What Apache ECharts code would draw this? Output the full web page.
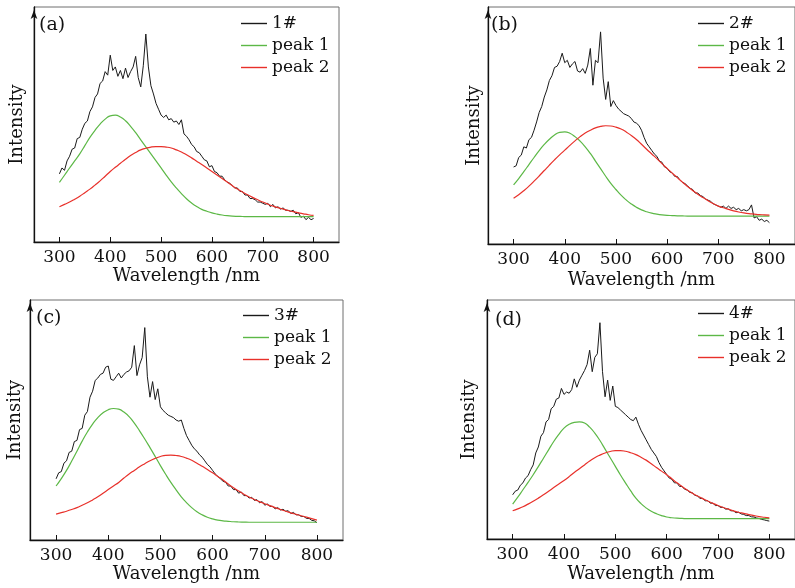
<!DOCTYPE html>
<html>
<head>
<meta charset="utf-8">
<script src="https://cdn.jsdelivr.net/npm/echarts@6/dist/echarts.min.js"></script>
<style>html,body{margin:0;padding:0;background:#fff}#c{width:795px;height:588px}</style>
</head>
<body>
<div id="c"></div>
<script>
// ---- data ----
const wavelengths5 = [300,305,310,315,320,325,330,335,340,345,350,355,360,365,370,375,380,385,390,395,
400,405,410,415,420,425,430,435,440,445,450,455,460,465,470,475,480,485,490,495,
500,505,510,515,520,525,530,535,540,545,550,555,560,565,570,575,580,585,590,595,
600,605,610,615,620,625,630,635,640,645,650,655,660,665,670,675,680,685,690,695,
700,705,710,715,720,725,730,735,740,745,750,755,760,765,770,775,780,785,790,795,800];
const wavelengths10 = [300,310,320,330,340,350,360,370,380,390,400,410,420,430,440,450,460,470,480,490,
500,510,520,530,540,550,560,570,580,590,600,610,620,630,640,650,660,670,680,690,
700,710,720,730,740,750,760,770,780,790,800];
const tickValues = [300,400,500,600,700,800];
const panelLabels = ['(a)','(b)','(c)','(d)'];
const sampleNames = ['1#','2#','3#','4#'];

const blackA = [29.0,31.5,30.5,34.5,36.5,39.5,40.0,44.0,44.5,48.0,
50.5,51.5,55.5,57.5,61.5,63.0,67.5,68.5,72.5,71.0,
79.5,73.0,74.5,70.5,73.0,69.5,74.0,70.0,72.5,74.5,
79.0,70.0,66.0,75.0,88.5,74.5,66.5,63.0,59.0,56.5,
54.0,53.0,54.0,52.0,52.5,51.0,51.5,50.0,52.0,46.0,
45.0,43.5,41.5,40.5,38.5,38.0,36.5,35.0,34.5,32.0,
32.5,30.0,29.5,28.0,28.0,26.5,25.5,25.0,24.0,23.0,
23.0,21.5,21.5,20.0,20.0,18.5,18.5,18.0,17.0,17.0,
16.5,16.0,16.5,15.0,16.0,14.5,15.0,14.0,14.5,13.5,
13.5,13.0,13.5,12.0,12.5,10.5,11.0,9.5,10.5,9.5,10.0];
const blackB = [32.5,33.0,36.5,37.5,41.0,40.5,44.0,45.0,48.0,51.5,
55.5,58.0,62.0,65.0,69.0,71.0,74.5,75.0,77.0,80.5,
76.5,77.5,74.5,76.0,77.0,73.0,72.5,74.0,72.0,75.5,
82.5,67.0,77.5,76.5,89.5,70.0,61.0,68.5,58.0,60.5,
58.5,57.0,56.0,55.0,54.5,54.0,53.0,51.5,51.0,50.0,
48.0,45.0,42.5,41.0,39.5,38.0,37.0,35.0,34.5,32.5,
32.0,30.5,30.0,28.5,28.5,27.0,26.0,25.5,24.5,23.5,
23.0,21.5,21.5,20.5,20.0,19.0,18.5,18.0,17.0,16.5,
16.0,15.5,16.0,15.0,16.0,15.0,15.5,14.5,15.0,14.0,
14.5,14.0,14.5,16.5,11.0,11.5,10.0,10.5,9.5,10.0,9.0];
const blackC = [25.5,28.0,28.5,32.0,33.0,36.5,37.0,41.0,41.5,46.0,
46.5,52.0,53.5,59.5,62.0,66.5,67.5,69.0,69.5,72.0,
72.5,67.0,66.5,68.0,69.5,67.5,69.0,70.0,70.5,72.0,
81.0,68.5,73.0,76.0,88.5,68.0,59.5,66.0,58.5,63.0,
55.5,54.0,53.0,52.0,51.5,51.0,50.0,49.5,50.0,46.5,
43.5,41.5,39.5,38.0,37.0,35.5,34.5,33.0,31.5,30.5,
29.0,27.5,26.5,25.5,24.5,24.0,22.5,22.5,21.0,21.0,
19.5,20.0,18.5,18.5,17.5,17.8,16.5,16.8,15.5,16.0,
14.5,15.0,14.0,14.0,13.0,13.5,12.5,12.8,12.0,12.2,
11.0,11.5,10.5,10.5,9.8,9.8,9.0,9.0,8.2,8.0,7.2];
const blackD = [18.5,20.0,20.5,22.5,23.5,25.5,26.5,29.0,31.0,36.0,
38.5,43.0,44.5,49.0,50.0,54.5,55.5,58.5,59.0,63.0,
60.5,61.5,61.0,62.5,67.0,63.5,66.5,68.5,70.5,73.0,
79.0,70.0,76.0,77.5,90.5,70.0,59.5,66.5,58.0,64.0,
55.5,55.0,54.0,53.0,52.0,51.0,50.0,49.5,51.0,48.0,
45.5,43.5,41.5,39.5,37.5,36.0,34.5,32.0,30.0,28.5,
27.0,25.5,25.0,23.5,23.5,22.0,22.0,20.8,20.5,19.5,
19.3,18.3,18.0,17.0,17.0,16.0,16.0,15.0,15.0,14.0,
14.0,13.2,13.3,12.5,12.6,11.8,11.8,11.0,11.2,10.5,
10.3,9.8,9.8,9.3,9.2,8.8,8.6,8.2,8.0,7.7,7.5];

const peak1A = [25.4,28.4,31.5,34.5,37.5,41.0,44.5,47.5,50.2,52.3,53.7,54.0,53.2,51.6,49.2,46.5,43.5,40.5,37.5,34.5,
31.5,28.5,25.6,23.0,20.6,18.4,16.6,15.1,13.9,13.1,12.4,11.9,11.5,11.2,11.0,10.9,10.85,10.8,10.8,10.8,
10.8,10.8,10.8,10.8,10.8,10.8,10.8,10.8,10.8,10.8,10.8];
const peak2A = [15.0,16.0,17.0,18.2,19.5,21.0,22.5,24.2,26.0,28.0,30.0,31.8,33.5,35.2,36.8,38.1,39.2,39.9,40.4,40.6,
40.6,40.4,40.0,39.2,38.3,37.1,35.8,34.4,33.0,31.5,30.0,28.5,27.0,25.5,24.0,22.6,21.3,20.1,19.0,18.0,
17.0,16.1,15.3,14.6,14.0,13.4,12.9,12.4,12.0,11.6,11.3];
const peak1B = [24.9,27.6,30.5,33.5,36.5,39.4,42.0,44.2,46.0,47.1,47.3,46.7,45.3,43.4,41.0,38.2,35.0,31.8,28.6,25.6,
23.0,20.6,18.6,16.9,15.5,14.4,13.6,13.0,12.6,12.3,12.1,12.0,11.9,11.85,11.8,11.8,11.8,11.8,11.8,11.8,
11.8,11.8,11.8,11.8,11.8,11.8,11.8,11.8,11.8,11.8,11.8];
const peak2B = [19.3,20.8,22.5,24.4,26.5,28.7,31.0,33.3,35.5,37.6,39.6,41.6,43.5,45.3,46.8,48.0,49.0,49.6,49.9,49.8,
49.3,48.5,47.3,45.8,44.1,42.1,40.0,38.0,36.0,33.9,31.9,29.9,28.0,26.1,24.3,22.6,21.0,19.6,18.3,17.1,
16.0,15.3,14.6,14.0,13.5,13.1,12.8,12.6,12.4,12.3,12.2];
const peak1C = [22.5,25.6,29.0,32.9,37.0,41.2,45.0,48.3,51.0,53.0,54.3,54.8,54.5,53.3,51.4,48.7,45.5,42.1,38.5,34.8,
31.0,27.4,24.0,20.9,18.0,15.6,13.5,11.8,10.5,9.5,8.8,8.3,8.0,7.8,7.6,7.5,7.45,7.4,7.4,7.4,
7.4,7.4,7.4,7.4,7.4,7.4,7.4,7.4,7.4,7.4,7.4];
const peak2C = [10.8,11.4,12.0,12.7,13.5,14.5,15.5,16.7,18.0,19.5,21.0,22.5,24.0,25.8,27.5,29.0,30.5,31.8,33.0,34.0,
34.8,35.3,35.4,35.2,34.8,34.1,33.2,32.0,30.7,29.4,28.0,26.5,25.0,23.3,21.8,20.4,19.1,17.9,16.9,16.0,
15.1,14.3,13.5,12.7,12.0,11.3,10.7,10.1,9.5,8.9,8.3];
const peak1D = [14.6,17.5,20.6,23.7,26.9,30.3,33.8,37.3,40.8,43.8,46.4,48.0,48.8,49.0,48.5,46.8,44.3,41.2,37.6,34.0,
30.4,26.8,23.4,20.1,17.1,14.8,13.0,11.6,10.6,9.8,9.2,8.9,8.7,8.6,8.5,8.5,8.5,8.5,8.5,8.5,
8.5,8.5,8.5,8.5,8.5,8.5,8.5,8.5,8.5,8.5,8.5];
const peak2D = [11.8,12.6,13.5,14.6,15.8,17.1,18.5,20.0,21.5,23.0,24.5,26.1,27.8,29.4,31.0,32.6,34.0,35.1,36.0,36.6,
37.0,37.0,36.7,36.1,35.3,34.2,33.0,31.5,29.9,28.4,26.9,25.2,23.5,22.0,20.5,19.2,18.0,16.9,15.9,14.9,
14.0,13.2,12.5,11.8,11.2,10.7,10.2,9.8,9.4,9.1,8.8];

const blacks = [blackA, blackB, blackC, blackD];
const peak1s = [peak1A, peak1B, peak1C, peak1D];
const peak2s = [peak2A, peak2B, peak2C, peak2D];

// ---- layout ----
const FONT = 'DejaVu Serif';
const grids = [
  {left:34, top:7, width:305, height:235},
  {left:488, top:7, width:307, height:237},
  {left:30, top:300, width:313, height:240},
  {left:487, top:300, width:311, height:239}
];
const nameGapsX = [24, 27, 25, 26];
const nameGapsY = [8, 5, 6, 9];
const labelPos = [[39,16],[491,16],[36,309],[495,311]];
const legendPos = [[241,15],[698,15],[243,307],[698,305]];

const zip = (xs, ys) => xs.map((x, i) => [x, ys[i]]);

const option = {
  animation: false,
  backgroundColor: '#fff',
  grid: grids.map(g => Object.assign({show:true, borderColor:'#6e6e6e', borderWidth:1, backgroundColor:'transparent'}, g)),
  title: panelLabels.map((t, i) => ({text:t, left:labelPos[i][0], top:labelPos[i][1], padding:0,
    textStyle:{fontFamily:FONT, fontSize:19, fontWeight:'normal', color:'#111'}})),
  legend: sampleNames.map((n, i) => ({
    data:[n, 'peak 1', 'peak 2'], orient:'vertical', left:legendPos[i][0], top:legendPos[i][1],
    padding:0, icon:'rect', itemWidth:26, itemHeight:1.4, itemGap:5, selectedMode:false,
    textStyle:{fontFamily:FONT, fontSize:17, color:'#111', lineHeight:17}
  })),
  xAxis: grids.map((g, i) => ({
    type:'value', gridIndex:i, min:250, max:850,
    axisLine:{show:true, lineStyle:{color:'#111', width:1.3}},
    axisTick:{show:true, inside:true, length:5, customValues:tickValues, lineStyle:{color:'#111'}},
    axisLabel:{show:true, customValues:tickValues, fontFamily:FONT, fontSize:17, color:'#111', margin:7},
    splitLine:{show:false},
    name:'Wavelength /nm', nameLocation:'middle', nameGap:nameGapsX[i],
    nameTextStyle:{fontFamily:FONT, fontSize:18, color:'#111'}
  })),
  yAxis: grids.map((g, i) => ({
    type:'value', gridIndex:i, min:0, max:100,
    axisLine:{show:true, symbol:['none','arrow'], symbolSize:[5,9], symbolOffset:[0,-3], lineStyle:{color:'#111', width:1.3}},
    axisTick:{show:false}, axisLabel:{show:false}, splitLine:{show:false},
    name:'Intensity', nameLocation:'middle', nameGap:nameGapsY[i], nameRotate:90,
    nameTextStyle:{fontFamily:FONT, fontSize:18, color:'#111'}
  })),
  series: []
};

for (let i = 0; i < 4; i++) {
  option.series.push({type:'line', name:sampleNames[i], xAxisIndex:i, yAxisIndex:i, symbol:'none',
    data:zip(wavelengths5, blacks[i]), lineStyle:{color:'#1a1a1a', width:1}, itemStyle:{color:'#1a1a1a'}});
  option.series.push({type:'line', name:'peak 1', xAxisIndex:i, yAxisIndex:i, symbol:'none', smooth:true,
    data:zip(wavelengths10, peak1s[i]), lineStyle:{color:'#5cb846', width:1.2}, itemStyle:{color:'#5cb846'}});
  option.series.push({type:'line', name:'peak 2', xAxisIndex:i, yAxisIndex:i, symbol:'none', smooth:true,
    data:zip(wavelengths10, peak2s[i]), lineStyle:{color:'#e8302a', width:1.2}, itemStyle:{color:'#e8302a'}});
}

const chart = echarts.init(document.getElementById('c'), null, {renderer:'canvas'});
chart.setOption(option);
</script>
</body>
</html>
